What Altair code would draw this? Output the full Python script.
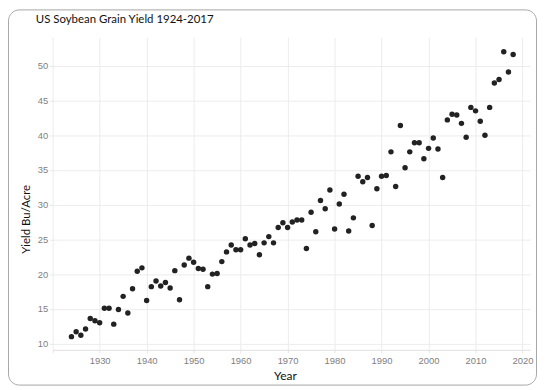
import altair as alt
import pandas as pd

years = list(range(1924, 2019))
yields = [
    11.0, 11.7, 11.2, 12.1, 13.6, 13.3, 13.0, 15.1, 15.1, 12.8,   # 1924-1933
    14.9, 16.8, 14.4, 17.9, 20.4, 20.9, 16.2, 18.2, 19.0, 18.3,   # 1934-1943
    18.8, 18.0, 20.5, 16.3, 21.3, 22.3, 21.7, 20.8, 20.7, 18.2,   # 1944-1953
    20.0, 20.1, 21.8, 23.2, 24.2, 23.5, 23.5, 25.1, 24.2, 24.4,   # 1954-1963
    22.8, 24.5, 25.4, 24.5, 26.7, 27.4, 26.7, 27.5, 27.8, 27.8,   # 1964-1973
    23.7, 28.9, 26.1, 30.6, 29.4, 32.1, 26.5, 30.1, 31.5, 26.2,   # 1974-1983
    28.1, 34.1, 33.3, 33.9, 27.0, 32.3, 34.1, 34.2, 37.6, 32.6,   # 1984-1993
    41.4, 35.3, 37.6, 38.9, 38.9, 36.6, 38.1, 39.6, 38.0, 33.9,   # 1994-2003
    42.2, 43.0, 42.9, 41.7, 39.7, 44.0, 43.5, 42.0, 40.0, 44.0,   # 2004-2013
    47.5, 48.0, 52.0, 49.1, 51.6,                                 # 2014-2018
]
x_ticks = list(range(1920, 2021, 10))
y_ticks = [10, 15, 20, 25, 30, 35, 40, 45, 50]
title_text = "US Soybean Grain Yield 1924-2017"

df = pd.DataFrame({"Year": years, "Yield": yields})

points = alt.Chart(df).mark_circle(size=30, color="#222222", opacity=1).encode(
    x=alt.X(
        "Year:Q",
        scale=alt.Scale(domain=[1920, 2021.6], nice=False, zero=False),
        axis=alt.Axis(
            values=x_ticks,
            format="d",
            labelExpr="datum.value == 1920 ? '' : datum.label",
            title="Year",
            titleX=234,
            titleY=26,
            titleAlign="center",
            titleBaseline="middle",
            titleFont="Lato",
            titleFontSize=12,
            titleFontWeight="normal",
            titleColor="#111111",
            labelFont="Liberation Sans",
            labelFontSize=9.5,
            labelColor="#808080",
            labelPadding=3,
            tickSize=3,
            tickColor="#e6e6e6",
            domainColor="#e0e0e0",
            gridColor="#ececec",
        ),
    ),
    y=alt.Y(
        "Yield:Q",
        scale=alt.Scale(domain=[9.1, 54.1], nice=False, zero=False),
        axis=alt.Axis(
            values=y_ticks,
            title="Yield Bu/Acre",
            titleX=-26,
            titleY=183,
            titleAngle=270,
            titleAlign="center",
            titleBaseline="middle",
            titleFont="Lato",
            titleFontSize=11.5,
            titleFontWeight="normal",
            titleColor="#111111",
            labelFont="Liberation Sans",
            labelFontSize=9.5,
            labelColor="#808080",
            labelPadding=2,
            tickSize=3,
            tickColor="#e6e6e6",
            domain=False,
            gridColor="#ececec",
        ),
    ),
)

frame_df = pd.DataFrame({"k": [0]})
frame = alt.Chart(frame_df).mark_rect(
    fill=None, stroke="#a6a6a6", strokeWidth=1, cornerRadius=11
).encode(
    x=alt.value(-44.5), x2=alt.value(487.5), y=alt.value(-27.5), y2=alt.value(350.5)
)

title = alt.Chart(frame_df).mark_text(
    align="left", baseline="middle", font="Lato", fontSize=11.5, color="#111111"
).encode(x=alt.value(-17), y=alt.value(-17), text=alt.value(title_text))

chart = alt.layer(frame, points, title).properties(
    width=481,
    height=315,
    autosize=alt.AutoSizeParams(type="none"),
    padding={"left": 45, "top": 28, "right": 8, "bottom": 36},
    background="white",
).configure_view(stroke=None)

chart.save("out.html", embed_options={"renderer": "svg", "actions": False})
